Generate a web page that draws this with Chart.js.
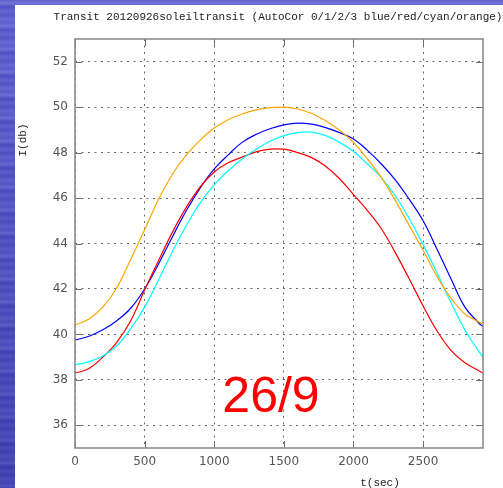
<!DOCTYPE html>
<html>
<head>
<meta charset="utf-8">
<script src="https://cdn.jsdelivr.net/npm/chart.js@4.4.1/dist/chart.umd.min.js"></script>
<style>
  html, body { margin: 0; padding: 0; }
  body {
    width: 503px; height: 488px; position: relative; overflow: hidden;
    background:
      linear-gradient(180deg, rgba(120,120,230,0.15) 0%, rgba(20,20,130,0.35) 100%),
      repeating-linear-gradient(180deg, #5c5cc9 0px, #7474d6 3px, #4b4bbd 7px, #6565cf 11px, #5252c2 15px, #6a6ad2 19px, #5c5cc9 23px);
  }
  #panel { position: absolute; left: 15px; top: 5px; right: 0; bottom: 0; background: #fff; }
  #chart { position: absolute; left: 0; top: 0; }
</style>
</head>
<body>
<div id="panel"></div>
<canvas id="chart" width="503" height="488"></canvas>
<script>
// Time of each sample (seconds)
const times = [0, 100, 200, 300, 400, 500, 600, 700, 800, 900, 1000, 1100, 1200, 1300, 1400,
               1500, 1600, 1700, 1800, 1900, 2000, 2100, 2200, 2300, 2400, 2500, 2600, 2700, 2800, 2900, 2930];

// Intensity (dB) for each autocorrelation channel
const blueI   = [39.75, 39.92, 40.20, 40.60, 41.15, 42.00, 43.10, 44.30, 45.45, 46.45, 47.28, 47.90, 48.45, 48.80, 49.05,
                 49.22, 49.30, 49.25, 49.10, 48.88, 48.60, 48.10, 47.50, 46.80, 45.95, 45.00, 43.75, 42.45, 41.20, 40.50, 40.34];
const redI    = [38.29, 38.50, 39.00, 39.65, 40.60, 41.95, 43.25, 44.50, 45.60, 46.50, 47.15, 47.55, 47.80, 48.03, 48.15,
                 48.15, 48.00, 47.78, 47.40, 46.85, 46.15, 45.45, 44.65, 43.60, 42.45, 41.25, 40.15, 39.30, 38.75, 38.40, 38.30];
const cyanI   = [38.65, 38.80, 39.05, 39.50, 40.25, 41.20, 42.40, 43.65, 44.80, 45.80, 46.58, 47.20, 47.72, 48.15, 48.50,
                 48.75, 48.88, 48.90, 48.75, 48.45, 48.05, 47.50, 46.90, 46.10, 45.10, 43.95, 42.70, 41.40, 40.20, 39.25, 39.00];
const orangeI = [40.41, 40.68, 41.20, 42.05, 43.30, 44.60, 45.95, 47.05, 47.90, 48.55, 49.08, 49.45, 49.70, 49.88, 49.98,
                 50.00, 49.92, 49.72, 49.40, 48.98, 48.45, 47.72, 46.90, 45.90, 44.80, 43.70, 42.55, 41.60, 40.90, 40.55, 40.45];

// Axis tick values
const xTicks = [0, 500, 1000, 1500, 2000, 2500];
const yTicks = [36, 38, 40, 42, 44, 46, 48, 50, 52];

const titleText = 'Transit 20120926soleiltransit (AutoCor 0/1/2/3 blue/red/cyan/orange)';
const stampText = '26/9';

const toPoints = arr => times.map((t, i) => ({ x: t, y: arr[i] }));

const series = (label, arr, color, order) => ({
  label, data: toPoints(arr), borderColor: color, borderWidth: 1.2,
  pointRadius: 0, fill: false, tension: 0.4, order
});

// Frame, mirrored inward ticks and free-standing labels
const decor = {
  id: 'decor',
  afterDatasetsDraw(chart) {
    const { ctx, chartArea: a, scales } = chart;
    ctx.save();
    ctx.strokeStyle = '#707070';
    ctx.lineWidth = 1;
    ctx.beginPath();
    yTicks.forEach(v => {
      const y = Math.round(scales.y.getPixelForValue(v)) + 0.5;
      ctx.moveTo(a.left, y); ctx.lineTo(a.left + 7, y);
      ctx.moveTo(a.right - 7, y); ctx.lineTo(a.right, y);
    });
    xTicks.forEach(v => {
      const x = Math.round(scales.x.getPixelForValue(v)) + 0.5;
      ctx.moveTo(x, a.bottom); ctx.lineTo(x, a.bottom - 7);
      ctx.moveTo(x, a.top); ctx.lineTo(x, a.top + 7);
    });
    ctx.stroke();

    ctx.strokeStyle = '#8c8c8c';
    ctx.lineWidth = 1.6;
    ctx.strokeRect(a.left, a.top, a.right - a.left, a.bottom - a.top);

    ctx.fillStyle = '#222';
    ctx.font = '11px "Liberation Mono", monospace';
    ctx.textAlign = 'center';
    ctx.textBaseline = 'middle';
    ctx.fillText(titleText, 278, 17);
    ctx.fillText('t(sec)', 380, 483);

    ctx.save();
    ctx.translate(23, 140);
    ctx.rotate(-Math.PI / 2);
    ctx.fillText('I(db)', 0, 0);
    ctx.restore();

    ctx.fillStyle = '#ff0000';
    ctx.font = '50px "Liberation Sans", Arial, sans-serif';
    ctx.textAlign = 'center';
    ctx.textBaseline = 'alphabetic';
    ctx.fillText(stampText, 271, 412);
    ctx.restore();
  }
};

const tickFont = { family: '"DejaVu Sans", sans-serif', size: 12 };

new Chart(document.getElementById('chart'), {
  type: 'line',
  data: {
    datasets: [
      series('blue', blueI, '#0000ff', 4),
      series('red', redI, '#ff0000', 3),
      series('cyan', cyanI, '#00ffff', 2),
      series('orange', orangeI, '#ffa500', 1)
    ]
  },
  options: {
    responsive: false,
    animation: false,
    layout: { padding: { top: 39, right: 20, bottom: 0, left: 0 } },
    plugins: { legend: { display: false }, tooltip: { enabled: false } },
    scales: {
      x: {
        type: 'linear', min: 0, max: 2930,
        afterBuildTicks: s => { s.ticks = xTicks.map(v => ({ value: v })); },
        afterFit: s => { s.height = 40; },
        grid: { color: '#666', lineWidth: 1, drawTicks: false },
        border: { display: false, dash: [2, 4.5] },
        ticks: { padding: 7, font: tickFont, color: '#555', maxRotation: 0, autoSkip: false,
                 callback: v => String(v) }
      },
      y: {
        type: 'linear', min: 35, max: 53,
        afterBuildTicks: s => { s.ticks = yTicks.map(v => ({ value: v })); },
        afterFit: s => { s.width = 75; },
        grid: { color: '#666', lineWidth: 1, drawTicks: false },
        border: { display: false, dash: [2, 4.5] },
        ticks: { padding: 7, font: tickFont, color: '#555', autoSkip: false,
                 callback: v => String(v) }
      }
    }
  },
  plugins: [decor]
});
</script>
</body>
</html>
